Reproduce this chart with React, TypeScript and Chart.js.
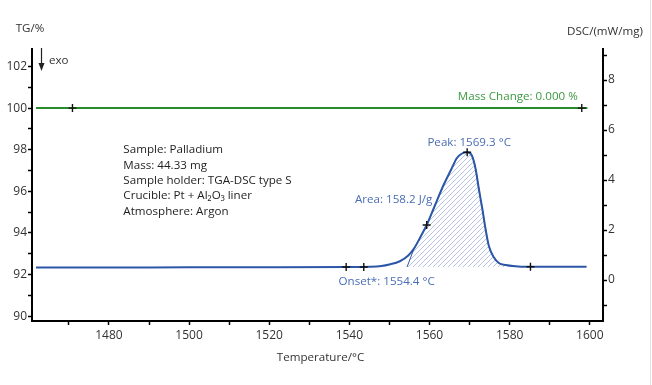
import React, { useEffect, useRef } from "react";
import { Chart, registerables } from "chart.js";

Chart.register(...registerables);

// ---- Data ----
const tgTemps = [1461.8, 1599.4];
const tgValues = [100.0, 100.0];
const tgMarkerTemps = [1470.9, 1598.0];
const tgMarkerValues = [100.0, 100.0];

const dscTemps = [
  1461.8, 1480, 1500, 1520, 1540, 1545, 1548, 1550, 1552.6, 1554.7, 1556.3, 1558,
  1559.3, 1561.3, 1563.4, 1565.5, 1566.8, 1568, 1569.4, 1570.6, 1571.5, 1572.3,
  1573.2, 1574, 1574.8, 1576.1, 1577.3, 1579, 1581.5, 1584, 1590, 1599.2,
];
const dscValues = [
  0.5, 0.5, 0.51, 0.51, 0.52, 0.53, 0.56, 0.62, 0.75, 0.98, 1.3, 1.8, 2.2, 2.96,
  3.76, 4.45, 4.87, 5.05, 5.11, 4.97, 4.45, 3.66, 2.83, 2.03, 1.37, 0.9, 0.68,
  0.6, 0.55, 0.53, 0.53, 0.53,
];
const dscMarkerTemps = [1539.2, 1543.6, 1559.3, 1569.4, 1585.2];
const dscMarkerValues = [0.52, 0.52, 2.2, 5.11, 0.53];

const onsetTemp = 1554.4;
const dscBaseline = 0.52;
const hatchFromTemp = 1556.3;
const hatchToTemp = 1581.5;

const xMin = 1460.8;
const xMax = 1603.3;
const tgMin = 89.77;
const tgMax = 102.84;
const dscMin = -1.64;
const dscMax = 9.24;

const sampleInfo = [
  "Sample: Palladium",
  "Mass: 44.33 mg",
  "Sample holder: TGA-DSC type S",
  "Crucible: Pt + Al\u2082O\u2083 liner",
  "Atmosphere: Argon",
];
const massChangeLabel = "Mass Change: 0.000 %";
const peakLabel = "Peak: 1569.3 °C";
const areaLabel = "Area: 158.2 J/g";
const onsetLabel = "Onset*: 1554.4 °C";

const GREEN = "#2a8a2e";
const BLUE = "#2c56a6";
const BLUE_TEXT = "#4a6db3";
const GREEN_TEXT = "#3c9a40";
const FONT = '"Open Sans", "Noto Sans", sans-serif';

function makeHatch(): CanvasPattern | string {
  const c = document.createElement("canvas");
  const s = 5;
  c.width = s;
  c.height = s;
  const g = c.getContext("2d");
  if (!g) return "rgba(150,170,220,0.4)";
  g.strokeStyle = "#a4b5df";
  g.lineWidth = 0.8;
  g.beginPath();
  g.moveTo(0, s);
  g.lineTo(s, 0);
  g.moveTo(-1, 1);
  g.lineTo(1, -1);
  g.moveTo(s - 1, s + 1);
  g.lineTo(s + 1, s - 1);
  g.stroke();
  const p = g.createPattern(c, "repeat");
  return p || "rgba(150,170,220,0.4)";
}

const annotPlugin = {
  id: "annot",
  afterDraw(chart: any) {
    const { ctx, chartArea, scales } = chart;
    const x = scales.x;
    const y = scales.y;
    const y2 = scales.y2;
    ctx.save();
    ctx.textBaseline = "middle";
    ctx.font = `11.6px ${FONT}`;

    // Axis titles
    ctx.fillStyle = "#333";
    ctx.textAlign = "center";
    ctx.fillText("TG/%", chartArea.left - 2, chartArea.top - 20);
    ctx.fillText("DSC/(mW/mg)", chartArea.right + 2, chartArea.top - 17);
    ctx.fillText("Temperature/°C", (chartArea.left + chartArea.right) / 2 + 3, chartArea.bottom + 37);

    // exo arrow
    const ax = chartArea.left + 9.5;
    ctx.strokeStyle = "#222";
    ctx.fillStyle = "#222";
    ctx.lineWidth = 1.2;
    ctx.beginPath();
    ctx.moveTo(ax, chartArea.top - 1);
    ctx.lineTo(ax, chartArea.top + 16);
    ctx.stroke();
    ctx.beginPath();
    ctx.moveTo(ax - 3, chartArea.top + 14);
    ctx.lineTo(ax + 3, chartArea.top + 14);
    ctx.lineTo(ax, chartArea.top + 22);
    ctx.closePath();
    ctx.fill();
    ctx.fillStyle = "#333";
    ctx.textAlign = "left";
    ctx.fillText("exo", chartArea.left + 17, chartArea.top + 12);

    // Sample info
    ctx.fillStyle = "#1e1e1e";
    const sx = x.getPixelForValue(1483.6);
    const sy = y.getPixelForValue(97.98);
    sampleInfo.forEach((t, i) => ctx.fillText(t, sx, sy + i * 15.3));

    // Mass change
    ctx.fillStyle = GREEN_TEXT;
    ctx.textAlign = "right";
    ctx.fillText(massChangeLabel, x.getPixelForValue(1597.0), y.getPixelForValue(100.53));

    // DSC labels
    ctx.fillStyle = BLUE_TEXT;
    ctx.textAlign = "center";
    ctx.fillText(peakLabel, x.getPixelForValue(1569.9), y2.getPixelForValue(5.51));
    ctx.textAlign = "right";
    ctx.fillText(areaLabel, x.getPixelForValue(1560.7), y2.getPixelForValue(3.23));
    ctx.textAlign = "left";
    ctx.fillText(onsetLabel, x.getPixelForValue(1537.3), y2.getPixelForValue(-0.05));
    ctx.restore();
  },
};

export default function App() {
  const ref = useRef<HTMLCanvasElement | null>(null);

  useEffect(() => {
    if (!ref.current) return;
    const toXY = (xs: number[], ys: number[]) => xs.map((v, i) => ({ x: v, y: ys[i] }));
    const hatchData = [
      { x: onsetTemp, y: dscBaseline },
      ...toXY(dscTemps, dscValues).filter((p) => p.x >= hatchFromTemp && p.x <= hatchToTemp),
    ];

    const tickFont = { family: FONT, size: 12 };
    const evenLabel = (step: number) => (v: any) => {
      const n = Number(v);
      return Math.abs(Math.round(n / step) * step - n) < 1e-6 && Math.round(n / step) % 2 === 0 ? String(Math.round(n)) : "";
    };
    const gridOpts = {
      drawOnChartArea: false,
      drawTicks: true,
      tickLength: 4,
      tickColor: "#000",
      tickWidth: 1.5,
    };
    const borderOpts = { display: true, color: "#000", width: 2 };

    const chart = new Chart(ref.current, {
      type: "line",
      data: {
        datasets: [
          {
            label: "TG markers",
            data: toXY(tgMarkerTemps, tgMarkerValues),
            yAxisID: "y",
            showLine: false,
            pointStyle: "cross",
            pointRadius: 4,
            pointBorderColor: "#111",
            pointBorderWidth: 1.4,
          },
          {
            label: "DSC markers",
            data: toXY(dscMarkerTemps, dscMarkerValues),
            yAxisID: "y2",
            showLine: false,
            pointStyle: "cross",
            pointRadius: 4,
            pointBorderColor: "#111",
            pointBorderWidth: 1.4,
          },
          {
            label: "TG",
            data: toXY(tgTemps, tgValues),
            yAxisID: "y",
            borderColor: GREEN,
            borderWidth: 2,
            pointRadius: 0,
            fill: false,
          },
          {
            label: "DSC",
            data: toXY(dscTemps, dscValues),
            yAxisID: "y2",
            borderColor: BLUE,
            borderWidth: 2,
            pointRadius: 0,
            cubicInterpolationMode: "monotone",
            fill: false,
          },
          {
            label: "Area",
            data: hatchData,
            yAxisID: "y2",
            borderColor: BLUE,
            borderWidth: 1,
            pointRadius: 0,
            cubicInterpolationMode: "monotone",
            backgroundColor: makeHatch() as any,
            fill: { value: dscBaseline },
          },
        ],
      },
      options: {
        animation: false,
        responsive: false,
        events: [],
        layout: { padding: { top: 49, left: 0, right: 0, bottom: 0 } },
        plugins: { legend: { display: false }, tooltip: { enabled: false } },
        scales: {
          x: {
            type: "linear",
            position: "bottom",
            min: xMin,
            max: xMax,
            ticks: {
              stepSize: 10,
              includeBounds: false,
              autoSkip: false,
              maxRotation: 0,
              padding: 3,
              color: "#333",
              font: tickFont,
              callback: evenLabel(10),
            },
            grid: gridOpts,
            border: borderOpts,
            afterFit: (s: any) => {
              s.height = 64;
            },
          },
          y: {
            type: "linear",
            position: "left",
            min: tgMin,
            max: tgMax,
            ticks: {
              stepSize: 1,
              includeBounds: false,
              autoSkip: false,
              padding: 1,
              color: "#333",
              font: tickFont,
              callback: evenLabel(1),
            },
            grid: gridOpts,
            border: borderOpts,
            afterFit: (s: any) => {
              s.width = 32;
            },
          },
          y2: {
            type: "linear",
            position: "right",
            min: dscMin,
            max: dscMax,
            ticks: {
              stepSize: 1,
              includeBounds: false,
              autoSkip: false,
              padding: 1,
              color: "#333",
              font: tickFont,
              callback: evenLabel(1),
            },
            grid: gridOpts,
            border: borderOpts,
            afterFit: (s: any) => {
              s.width = 47;
            },
          },
        },
      } as any,
      plugins: [annotPlugin],
    });
    return () => chart.destroy();
  }, []);

  return (
    <div
      style={{
        position: "absolute",
        left: 0,
        top: 0,
        width: 650,
        height: 385,
        borderRight: "1px solid #e2e2e2",
        background: "#fff",
      }}
    >
      <canvas ref={ref} width={650} height={385} style={{ display: "block", width: 650, height: 385 }} />
    </div>
  );
}
